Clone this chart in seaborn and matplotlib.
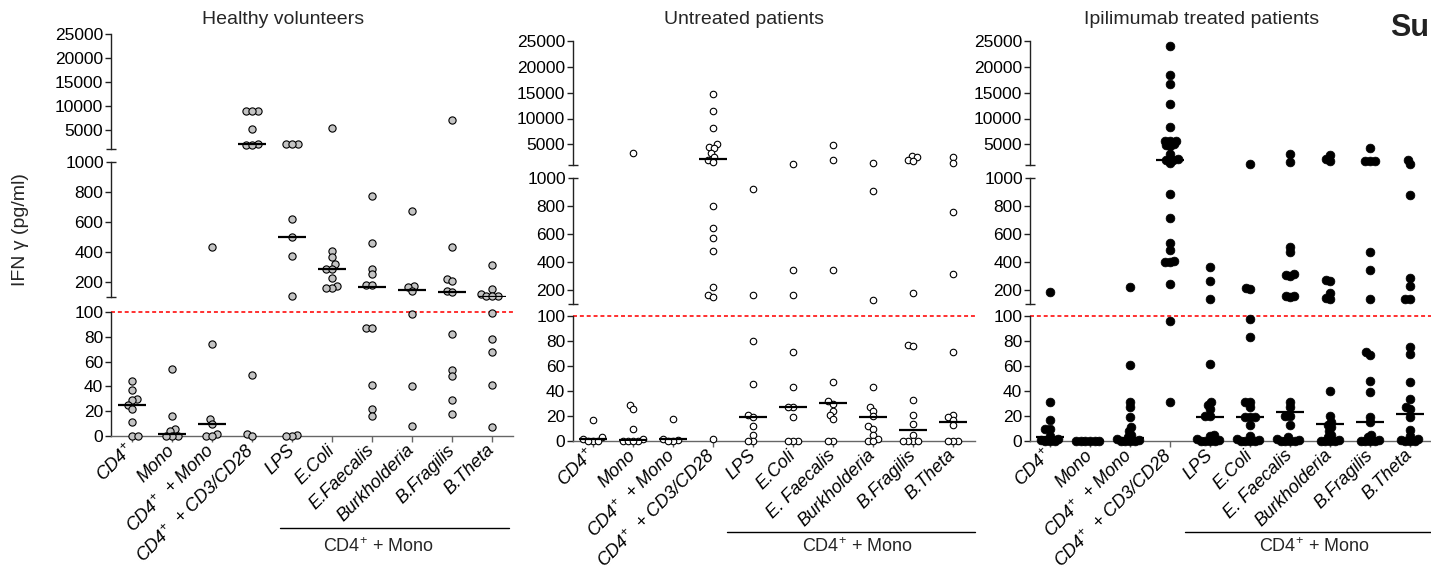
import numpy as np
import pandas as pd
import matplotlib
matplotlib.use("Agg")
import matplotlib.pyplot as plt
import seaborn as sns
from matplotlib.lines import Line2D

# ---------------- data ----------------
categories = ["CD4+", "Mono", "CD4+ + Mono", "CD4+ + CD3/CD28", "LPS",
              "E.Coli", "E.Faecalis", "Burkholderia", "B.Fragilis", "B.Theta"]
labels_healthy = [r"CD4$^{+}$", "Mono", r"CD4$^{+}$  + Mono", r"CD4$^{+}$  + CD3/CD28", "LPS",
                  "E.Coli", "E.Faecalis", "Burkholderia", "B.Fragilis", "B.Theta"]
labels_patients = [r"CD4$^{+}$", "Mono", r"CD4$^{+}$  + Mono", r"CD4$^{+}$  + CD3/CD28", "LPS",
                   "E.Coli", "E. Faecalis", "Burkholderia", "B.Fragilis", "B.Theta"]
titles = ["Healthy volunteers", "Untreated patients", "Ipilimumab treated patients"]

healthy = [
    [44, 37, 30, 29, 25, 22, 11, 0, 0],
    [54, 16, 6, 4, 0, 0, 0],
    [431, 74, 14, 10, 2, 0, 0],
    [8900, 8900, 8900, 5100, 2000, 1900, 1900, 49, 2, 0],
    [2050, 2000, 1950, 618, 502, 373, 109, 1, 0, 0],
    [5480, 409, 369, 318, 289, 289, 230, 176, 158, 158],
    [775, 463, 290, 252, 178, 178, 87, 87, 41, 22, 16],
    [673, 176, 165, 143, 98, 40, 8],
    [7150, 431, 220, 207, 143, 135, 82, 53, 48, 29, 18],
    [312, 155, 120, 110, 108, 106, 99, 78, 68, 41, 7],
]
untreated = [
    [17, 3, 2, 0, 0, 0],
    [3390, 29, 26, 10, 2, 0, 0, 0, 0],
    [18, 2, 1, 0, 0],
    [14800, 11400, 8150, 5000, 4500, 4200, 3400, 2550, 2050, 1600,
     800, 640, 570, 480, 225, 165, 150, 1.5],
    [921, 165, 80, 46, 21, 19, 12, 5, 0, 0],
    [1270, 345, 165, 71, 43, 27, 27, 19, 0, 0, 0],
    [4870, 1900, 345, 47, 32, 30, 24, 21, 18, 0, 0],
    [1460, 904, 130, 43, 27, 24, 20, 12, 10, 5, 2, 0, 0],
    [2800, 2550, 1900, 1850, 180, 77, 76, 33, 21, 14, 5, 0, 0, 0, 0],
    [2540, 1460, 760, 314, 71, 21, 19, 17, 13, 0, 0, 0],
]
ipilimumab = [
    [188, 31, 17, 10, 10, 4, 2, 1, 0, 0, 0],
    [0, 0, 0, 0, 0, 0],
    [225, 61, 31, 27, 19, 11, 8, 5, 3, 2, 1, 0, 0, 0, 0],
    [24000, 18500, 16700, 12800, 8400, 5700, 5700, 5600, 5000, 4900, 4600, 3200,
     2200, 2000, 1900, 1400, 888, 711, 534, 486, 408, 398, 398, 243, 96, 31],
    [367, 267, 135, 62, 31, 29, 26, 20, 20, 5, 4, 2, 1, 0, 0, 0, 0],
    [1270, 212, 205, 98, 83, 31, 31, 27, 19, 19, 19, 13, 4, 2, 1, 0, 0, 0, 0],
    [3070, 1580, 510, 474, 312, 305, 300, 160, 155, 150, 31, 27, 20, 20, 13, 3, 2, 1, 0, 0, 0, 0],
    [3000, 2100, 1710, 275, 265, 178, 140, 135, 40, 20, 15, 13, 11, 8, 5, 3, 1, 0, 0, 0, 0],
    [4290, 1770, 1700, 1700, 474, 343, 138, 71, 69, 48, 39, 19, 15, 5, 3, 1, 0, 0, 0, 0],
    [2040, 1270, 880, 284, 229, 135, 135, 75, 70, 47, 34, 27, 26, 19, 9, 4, 2, 1, 0, 0, 0],
]
median_healthy = [25, 2, 10, 2000, 500, 285, 170, 147, 133, 102]
median_untreated = [1.5, 1, 1.5, 2160, 19.5, 27.3, 30.5, 19.5, 9, 15.5]
median_ipilimumab = [3, 0, 2.5, 2050, 19.3, 19.3, 23, 13.4, 15.2, 22]

# ---------------- style ----------------
sns.set_theme(style="ticks")
plt.rcParams["font.family"] = ["Liberation Sans", "DejaVu Sans"]
plt.rcParams["mathtext.fontset"] = "custom"
plt.rcParams["mathtext.rm"] = "Liberation Sans"
plt.rcParams["mathtext.it"] = "Liberation Sans:italic"
plt.rcParams["mathtext.bf"] = "Liberation Sans:bold"

W, H = 1431, 571
fig = plt.figure(figsize=(W / 100, H / 100), dpi=100)
fig.patch.set_facecolor("white")


def px_axes(left, right, top, bottom):
    return fig.add_axes([left / W, 1 - bottom / H, (right - left) / W, (bottom - top) / H])


panels = [
    dict(values=healthy, medians=median_healthy, labels=labels_healthy, left=111, right=513,
         segs=[(34, 149), (162, 297), (312, 436)], xlim=(-0.525, 9.525),
         face="#c4c4c4", edge="black", lw=0.8, layout=3.0, final=27),
    dict(values=untreated, medians=median_untreated, labels=labels_patients, left=573, right=975,
         segs=[(41, 165), (178, 304), (316, 441)], xlim=(-0.5, 9.55),
         face="white", edge="black", lw=0.8, layout=2.8, final=22),
    dict(values=ipilimumab, medians=median_ipilimumab, labels=labels_patients, left=1030, right=1432,
         segs=[(41, 165), (178, 304), (316, 441)], xlim=(-0.5, 9.55),
         face="black", edge="black", lw=0.5, layout=2.6, final=40),
]
ranges = [(1000, 25000), (100, 1000), (0, 100)]
spine_col = "#222222"
xaxis_col = "#666666"
tick_fs = 12.5

swarm_colls = []
for p in panels:
    df = pd.DataFrame({
        "cat": np.repeat(categories, [len(v) for v in p["values"]]),
        "value": np.concatenate([np.asarray(v, float) for v in p["values"]]),
    })
    for si, ((top, bot), (lo, hi)) in enumerate(zip(p["segs"], ranges)):
        ax = px_axes(p["left"], p["right"], top, bot)
        if si == 0:
            sub = df[df["value"] >= lo]
        elif si == 1:
            sub = df[(df["value"] >= lo) & (df["value"] < hi)]
        else:
            sub = df[df["value"] < hi]
        before = len(ax.collections)
        if len(sub):
            sns.swarmplot(data=sub, x="cat", y="value", order=categories, ax=ax,
                          size=p["layout"], color=p["face"], edgecolor=p["edge"],
                          linewidth=p["lw"], clip_on=False, zorder=3, warn_thresh=1.0)
        for c in ax.collections[before:]:
            swarm_colls.append((c, p["final"]))
        # median lines
        for i, m in enumerate(p["medians"]):
            in_seg = (m >= lo) if si == 0 else ((lo <= m < hi) if si == 1 else (m < hi))
            if in_seg:
                ax.hlines(m, i - 0.35, i + 0.35, colors="black", lw=1.6, zorder=6)
        ax.set_xlim(*p["xlim"])
        ax.set_ylim(lo, hi)
        ax.set_xlabel("")
        ax.set_ylabel("")
        ax.patch.set_alpha(0)
        for s in ["top", "right"]:
            ax.spines[s].set_visible(False)
        ax.spines["left"].set_color(spine_col)
        ax.spines["left"].set_linewidth(1.0)
        ax.tick_params(axis="y", which="major", direction="out", length=4.3, width=1.0,
                       pad=1.2, labelsize=tick_fs, colors=spine_col)
        if si == 0:
            ax.spines["bottom"].set_visible(False)
            ax.set_xticks([])
            ax.set_yticks([5000, 10000, 15000, 20000, 25000])
            ax.set_yticks([1000], labels=[""], minor=True)
        elif si == 1:
            ax.spines["bottom"].set_visible(False)
            ax.set_xticks([])
            ax.set_yticks([200, 400, 600, 800])
            ax.set_yticks([100, 1000], labels=["", "1000"], minor=True)
        else:
            ax.spines["bottom"].set_color(xaxis_col)
            ax.spines["bottom"].set_linewidth(1.0)
            ax.set_yticks([0, 20, 40, 60, 80, 100])
            ax.set_xticks(range(len(categories)))
            ax.set_xticklabels(p["labels"], rotation=45, ha="right", va="center",
                               rotation_mode="anchor", fontstyle="italic", fontsize=13)
            ax.tick_params(axis="x", direction="out", length=4.3, width=1.0, pad=4,
                           colors=xaxis_col, labelcolor="black")
            ax.axhline(100, color="#ff2020", ls=(0, (2.2, 1.6)), lw=1.3, clip_on=False, zorder=2)
        ax.tick_params(axis="y", which="minor", direction="inout", length=7, width=1.0,
                       pad=1.2, labelsize=tick_fs, colors=spine_col)
        for lab in ax.get_yticklabels(which="both"):
            lab.set_color("black")

# ---------------- annotations ----------------
title_pos = [(283, 20), (744, 20), (1202, 20)]
for t, (x, y) in zip(titles, title_pos):
    fig.text(x / W, 1 - y / H, t, ha="center", va="center", fontsize=14)

fig.text(21 / W, 1 - 230 / H, "IFN \u03b3 (pg/ml)", rotation=90, ha="center", va="center", fontsize=14)

brackets = [((280, 509, 528), (378, 547)), ((727, 975, 532), (857, 547)), ((1185, 1431, 532), (1314, 547))]
for (x1, x2, y), (tx, ty) in brackets:
    fig.add_artist(Line2D([x1 / W, x2 / W], [1 - y / H, 1 - y / H], transform=fig.transFigure,
                          color="black", lw=1.0))
    fig.text(tx / W, 1 - ty / H, r"CD4$^{+}$ + Mono", ha="center", va="center", fontsize=13)

fig.text(1429 / W, 1 - 28 / H, "Su", ha="right", va="center", fontsize=22, fontweight="bold",
         color="#222222")

# compute compact swarm layout, then enlarge markers so they overlap like the original
fig.canvas.draw()
for c, s in swarm_colls:
    if "draw" in c.__dict__:
        del c.__dict__["draw"]
    c.set_sizes([s])

fig.savefig("out.png", dpi=100, facecolor="white")
